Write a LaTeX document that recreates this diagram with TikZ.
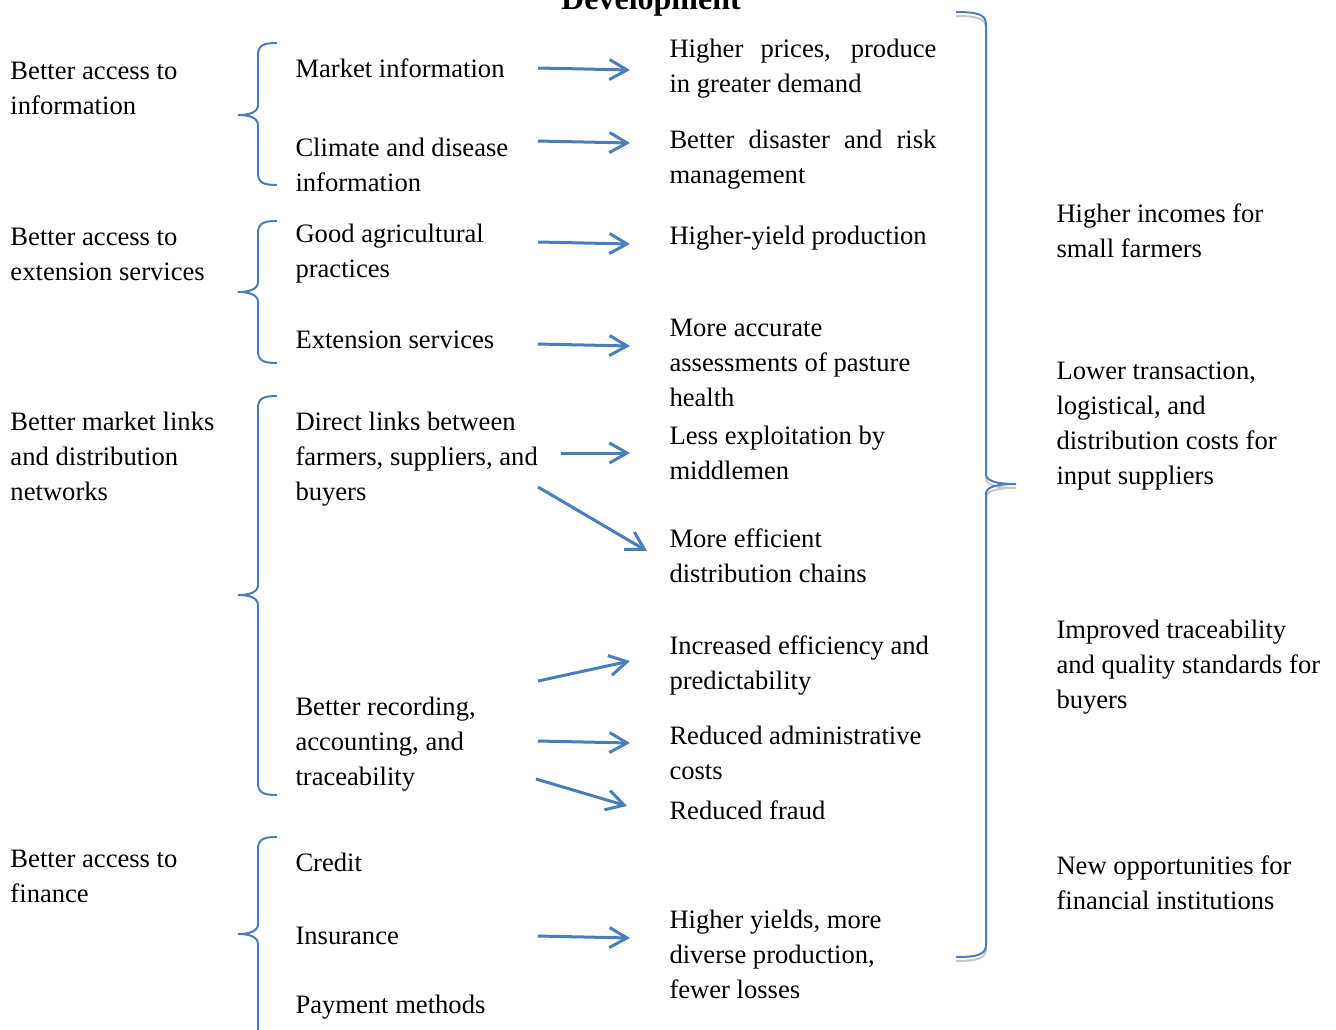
\documentclass[tikz,border=0pt]{standalone}
\usepackage{fontspec}
\setmainfont{Liberation Serif}
\usepackage{tikz}
\usetikzlibrary{arrows.meta}

\definecolor{wordblue}{RGB}{74,126,187}
\definecolor{shadowgray}{RGB}{200,200,200}

\newcommand{\leftbrace}[4]{%
    \draw[brace] (#1+19,#2) .. controls (#1+6,#2) and (#1,#2+2) .. (#1,#2+12)
        -- (#1,#3-10) .. controls (#1,#3-3) and (#1-8,#3) .. (#1-20,#3)
        .. controls (#1-8,#3) and (#1,#3+3) .. (#1,#3+10)
        -- (#1,#4-12) .. controls (#1,#4-2) and (#1+6,#4) .. (#1+19,#4);%
}

\begin{document}
\begin{tikzpicture}[%
            x=0.4pt, y=-0.4pt,
            every node/.style={inner sep=0pt, font=\fontsize{10.64}{14}\selectfont},
            txt/.style={anchor=base west, align=left},
            brace/.style={draw=wordblue, line width=0.8pt},
            arr/.style={draw=wordblue, line width=1.2pt, -{Straight Barb[length=7pt,width=8pt]}},
        ]
        \useasboundingbox (0,0) rectangle (1336,1029);

        \node[anchor=base, font=\fontsize{12.8}{15}\selectfont\bfseries] (title) at (651,9) {Development};

        \node[txt] (info) at (10,114) {Better access to\\information};
        \node[txt] (extension) at (10,280) {Better access to\\extension services};
        \node[txt] (market) at (10,500) {Better market links\\and distribution\\networks};
        \node[txt] (finance) at (10,902) {Better access to\\finance};

        \leftbrace{258}{43}{115}{185}
        \leftbrace{258}{221}{292}{363}
        \leftbrace{258}{396}{595}{795}
        \leftbrace{258}{837}{934}{1045}

        \node[txt] (mktinfo) at (295,77) {Market information};
        \node[txt] (climate) at (295,191) {Climate and disease\\information};
        \node[txt] (practices) at (295,277) {Good agricultural\\practices};
        \node[txt] (services) at (295,348) {Extension services};
        \node[txt] (direct) at (295,500) {Direct links between\\farmers, suppliers, and\\buyers};
        \node[txt] (recording) at (295,785) {Better recording,\\accounting, and\\traceability};
        \node[txt] (credit) at (295,871) {Credit};
        \node[txt] (insurance) at (295,944) {Insurance};
        \node[txt] (payment) at (295,1013) {Payment methods};

        \node[txt] (prices) at (669,92) {\makebox[106.8pt][s]{Higher prices, produce}\\in greater demand};
        \node[txt] (disaster) at (669,183) {\makebox[106.8pt][s]{Better disaster and risk}\\management};
        \node[txt] (yield) at (669,244) {Higher-yield production};
        \node[txt] (pasture) at (669,406) {More accurate\\assessments of pasture\\health};
        \node[txt] (middlemen) at (669,479) {Less exploitation by\\middlemen};
        \node[txt] (chains) at (669,582) {More efficient\\distribution chains};
        \node[txt] (efficiency) at (669,689) {Increased efficiency and\\predictability};
        \node[txt] (admin) at (669,779) {Reduced administrative\\costs};
        \node[txt] (fraud) at (669,819) {Reduced fraud};
        \node[txt] (yields) at (669,998) {Higher yields, more\\diverse production,\\fewer losses};

        \coordinate (mktinfo-out) at (538,68);
        \coordinate (prices-in) at (630,70);
        \coordinate (climate-out) at (538,141);
        \coordinate (disaster-in) at (630,143);
        \coordinate (practices-out) at (538,242);
        \coordinate (yield-in) at (630,244);
        \coordinate (services-out) at (538,344);
        \coordinate (pasture-in) at (630,346);
        \coordinate (direct-out) at (561,453);
        \coordinate (middlemen-in) at (630,453);
        \coordinate (direct-down) at (538,487);
        \coordinate (chains-in) at (647,551);
        \coordinate (recording-up) at (538,681);
        \coordinate (efficiency-in) at (630,661);
        \coordinate (recording-out) at (538,741);
        \coordinate (admin-in) at (630,743);
        \coordinate (recording-down) at (536,779);
        \coordinate (fraud-in) at (627,806);
        \coordinate (insurance-out) at (538,936);
        \coordinate (yields-in) at (630,938);

        \draw[arr] (mktinfo-out) -- (prices-in);
        \draw[arr] (climate-out) -- (disaster-in);
        \draw[arr] (practices-out) -- (yield-in);
        \draw[arr] (services-out) -- (pasture-in);
        \draw[arr] (direct-out) -- (middlemen-in);
        \draw[arr] (direct-down) -- (chains-in);
        \draw[arr] (recording-up) -- (efficiency-in);
        \draw[arr] (recording-out) -- (admin-in);
        \draw[arr] (recording-down) -- (fraud-in);
        \draw[arr] (insurance-out) -- (yields-in);

        \foreach \col/\dy in {shadowgray/4, wordblue/0} {
            \draw[brace, draw=\col, shift={(0,\dy)}] (956,12) .. controls (976,12) and (986,14) .. (986,24)
                -- (986,474) .. controls (986,481) and (996,484) .. (1016,484)
                .. controls (996,484) and (986,487) .. (986,494)
                -- (986,945) .. controls (986,955) and (976,957) .. (956,957);
        }

        \node[txt] (incomes) at (1056,257) {Higher incomes for\\small farmers};
        \node[txt] (transaction) at (1056,484) {Lower transaction,\\logistical, and\\distribution costs for\\input suppliers};
        \node[txt] (traceability) at (1056,708) {Improved traceability\\and quality standards for\\buyers};
        \node[txt] (opportunities) at (1056,909) {New opportunities for\\financial institutions};
\end{tikzpicture}
\end{document}
